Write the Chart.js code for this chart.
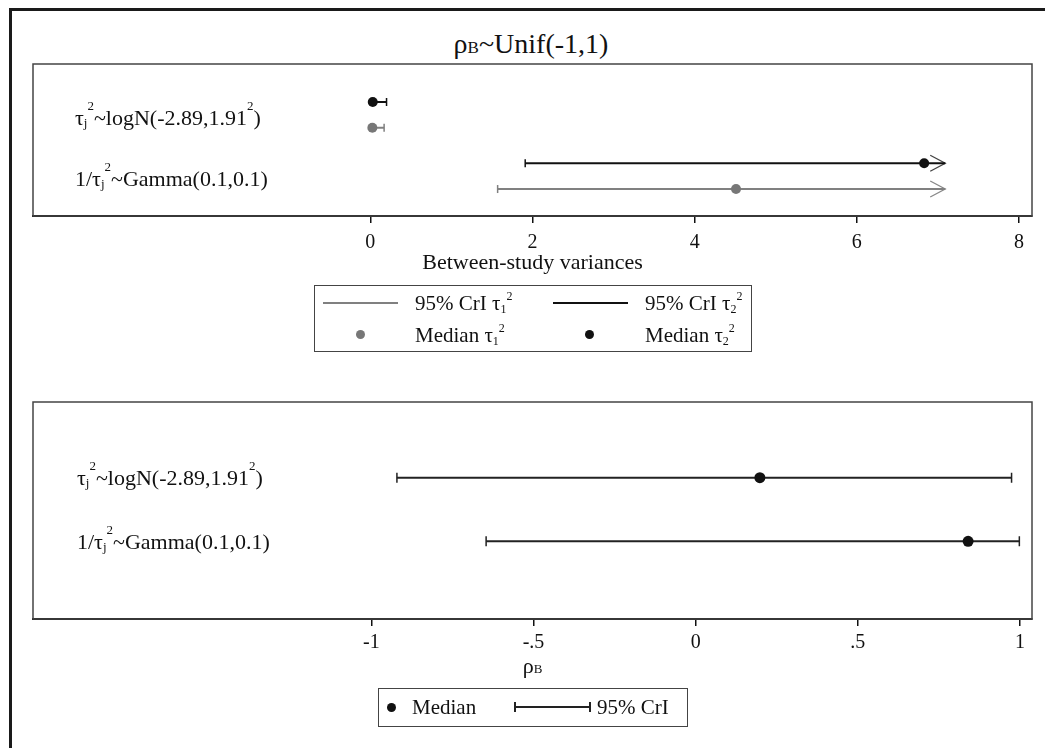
<!DOCTYPE html>
<html>
<head>
<meta charset="utf-8">
<script src="https://cdn.jsdelivr.net/npm/chart.js@4.4.0/dist/chart.umd.min.js"></script>
<style>
  html, body { margin: 0; padding: 0; background: #fff; }
  #page { position: relative; width: 1045px; height: 748px; overflow: hidden; background: #fff;
          font-family: 'Liberation Serif', 'Times New Roman', serif; color: #111; }
  #frame { position: absolute; left: 9px; top: 8px; width: 1100px; height: 800px;
           border-top: 3px solid #1a1a1a; border-left: 3px solid #1a1a1a; }
  canvas { position: absolute; left: 0; }
  .t { position: absolute; white-space: nowrap; font-size: 21px; line-height: 24px; }
  .sb, .sp { font-size: 12px; position: relative; }
  .sb { top: 3px; }
  .sp { top: -10px; }
  .box { position: absolute; border: 1.5px solid #444; box-sizing: border-box; }
  .ln { position: absolute; height: 2px; }
  .dot { position: absolute; border-radius: 50%; width: 9px; height: 9px; }
  .cap { position: absolute; width: 1.5px; height: 10px; background: #222; }
</style>
</head>
<body>
<div id="page">
  <div id="frame"></div>

  <div class="t" style="left:0;width:1062px;text-align:center;top:28px;font-size:28px;line-height:32px">ρ<span style="font-size:17px">B</span>~Unif(-1,1)</div>

  <canvas id="top" width="1045" height="290" style="top:0"></canvas>
  <canvas id="bottom" width="1045" height="320" style="top:380px"></canvas>

  <!-- legend of the variance panel -->
  <div class="box" style="left:314px;top:285px;width:438px;height:67px"></div>
  <div class="ln" style="left:323px;width:75px;top:302px;background:#808080"></div>
  <div class="t" style="left:415px;top:291px">95% CrI τ<span class="sb">1</span><span class="sp">2</span></div>
  <div class="ln" style="left:553px;width:75px;top:302px;background:#111"></div>
  <div class="t" style="left:645px;top:291px">95% CrI τ<span class="sb">2</span><span class="sp">2</span></div>
  <div class="dot" style="left:356px;top:330px;background:#777"></div>
  <div class="t" style="left:415px;top:323px">Median τ<span class="sb">1</span><span class="sp">2</span></div>
  <div class="dot" style="left:585px;top:330px;background:#111"></div>
  <div class="t" style="left:645px;top:323px">Median τ<span class="sb">2</span><span class="sp">2</span></div>

  <!-- legend of the correlation panel -->
  <div class="box" style="left:378px;top:688px;width:310px;height:39px"></div>
  <div class="dot" style="left:387px;top:703px;background:#111"></div>
  <div class="t" style="left:412px;top:695px">Median</div>
  <div class="ln" style="left:514px;width:76px;top:706px;background:#222"></div>
  <div class="cap" style="left:514px;top:702px"></div>
  <div class="cap" style="left:589px;top:702px"></div>
  <div class="t" style="left:597px;top:695px">95% CrI</div>
</div>

<script>
// ---- data ----
const priors = ['logN', 'Gamma'];
const priorLabels = [
    [['τ', ''], ['j', 'sub'], ['2', 'sup'], ['~logN(-2.89,1.91', ''], ['2', 'sup'], [')', '']],
    [['1/τ', ''], ['j', 'sub'], ['2', 'sup'], ['~Gamma(0.1,0.1)', '']]
];

// between-study variances
const tau1Median = [0.025, 4.51];
const tau1Lower = [0.004, 1.57];
const tau1Upper = [0.17, 7.09];
const tau2Median = [0.03, 6.83];
const tau2Lower = [0.005, 1.91];
const tau2Upper = [0.2, 7.09];
const upperTruncated = [false, true];
const varTicks = [0, 2, 4, 6, 8];

// between-study correlation
const rhoMedian = [0.198, 0.84];
const rhoLower = [-0.921, -0.646];
const rhoUpper = [0.974, 0.998];
const rhoTicks = [-1, -0.5, 0, 0.5, 1];
const rhoTickLabels = ['-1', '-.5', '0', '.5', '1'];

const FONT = "'Liberation Serif', 'Times New Roman', serif";
const BLACK = '#111111';
const GRAY = '#808080';
const ROW_OFF = 0.21;

// text with sub/superscripts on the canvas
function drawRich(ctx, parts, x, y, size, align) {
    const small = Math.round(size * 0.6);
    let w = 0;
    parts.forEach(([t, k]) => {
        ctx.font = `${k ? small : size}px ${FONT}`;
        w += ctx.measureText(t).width;
    });
    let cx = align === 'center' ? x - w / 2 : x;
    ctx.textAlign = 'left';
    ctx.textBaseline = 'alphabetic';
    parts.forEach(([t, k]) => {
        ctx.font = `${k ? small : size}px ${FONT}`;
        let dy = 0;
        if (k === 'sub') dy = 2;
        if (k === 'sup') dy = -size * 0.68;
        ctx.fillText(t, cx, y + dy);
        cx += ctx.measureText(t).width;
    });
}

// caps and arrow heads for the interval datasets
const errorDecor = {
    id: 'errorDecor',
    beforeDatasetsDraw(chart, args, opts) {
        const ctx = chart.ctx;
        chart.data.datasets.forEach((ds, i) => {
            if (!ds.interval) return;
            const pts = chart.getDatasetMeta(i).data;
            const a = pts[0], b = pts[1];
            ctx.save();
            ctx.strokeStyle = ds.borderColor;
            ctx.lineWidth = 1.5;
            ctx.beginPath();
            ctx.moveTo(a.x, a.y - opts.cap);
            ctx.lineTo(a.x, a.y + opts.cap);
            if (!ds.arrow) {
                ctx.moveTo(b.x, b.y - opts.cap);
                ctx.lineTo(b.x, b.y + opts.cap);
            }
            ctx.stroke();
            if (ds.arrow) {
                ctx.strokeStyle = ds.arrowColor;
                ctx.lineWidth = 1.3;
                ctx.beginPath();
                ctx.moveTo(b.x - 15, b.y - 8);
                ctx.lineTo(b.x, b.y);
                ctx.lineTo(b.x - 15, b.y + 8);
                ctx.stroke();
            }
            ctx.restore();
        });
    }
};

// plot frame, row labels and rich axis title
const panelDecor = {
    id: 'panelDecor',
    afterDraw(chart, args, opts) {
        const { ctx, chartArea: ca, scales } = chart;
        ctx.save();
        ctx.strokeStyle = '#444';
        ctx.lineWidth = 1.5;
        ctx.strokeRect(ca.left, ca.top, ca.right - ca.left, ca.bottom - ca.top);
        ctx.fillStyle = BLACK;
        opts.labels.forEach((parts, i) => {
            drawRich(ctx, parts, ca.left + opts.labelInset,
                scales.y.getPixelForValue(i + 1) + opts.labelShift, opts.size);
        });
        if (opts.axisTitle) {
            drawRich(ctx, opts.axisTitle, (ca.left + ca.right) / 2, opts.axisTitleY, 22, 'center');
        }
        ctx.restore();
    }
};

function xAxis(min, max, ticks, labels, height, pad, title) {
    return {
        type: 'linear', min, max,
        afterBuildTicks: s => { s.ticks = ticks.map(v => ({ value: v })); },
        afterFit: s => { s.height = height; },
        grid: { drawOnChartArea: false, drawTicks: true, tickLength: 7, color: BLACK, lineWidth: 1.5 },
        border: { display: true, color: BLACK, width: 2 },
        ticks: {
            color: BLACK, font: { family: FONT, size: 20 }, padding: pad,
            maxRotation: 0, autoSkip: false,
            callback: v => labels ? labels[ticks.indexOf(v)] : String(v)
        },
        title: title ? {
            display: true, text: title, color: BLACK,
            font: { family: FONT, size: 22 }, padding: { top: 0, bottom: 14 }
        } : { display: false }
    };
}

// ---- top panel: variances ----
const topSets = [
    {
        data: tau2Median.map((m, i) => ({ x: m, y: i + 1 - ROW_OFF })),
        backgroundColor: BLACK, borderWidth: 0, pointRadius: 5
    },
    {
        data: tau1Median.map((m, i) => ({ x: m, y: i + 1 + ROW_OFF })),
        backgroundColor: '#777', borderWidth: 0, pointRadius: 5
    }
];
priors.forEach((p, i) => {
    topSets.push({
        interval: true, arrow: upperTruncated[i], arrowColor: '#444',
        data: [{ x: tau2Lower[i], y: i + 1 - ROW_OFF }, { x: tau2Upper[i], y: i + 1 - ROW_OFF }],
        showLine: true, borderColor: BLACK, borderWidth: 2, pointRadius: 0
    });
    topSets.push({
        interval: true, arrow: upperTruncated[i], arrowColor: '#888',
        data: [{ x: tau1Lower[i], y: i + 1 + ROW_OFF }, { x: tau1Upper[i], y: i + 1 + ROW_OFF }],
        showLine: true, borderColor: GRAY, borderWidth: 2, pointRadius: 0
    });
});

new Chart(document.getElementById('top'), {
    type: 'scatter',
    data: { datasets: topSets },
    options: {
        responsive: false, animation: false, devicePixelRatio: 1, events: [],
        layout: { padding: { left: 33, right: 13, top: 64, bottom: 0 } },
        plugins: {
            legend: { display: false }, tooltip: { enabled: false },
            errorDecor: { cap: 4 },
            panelDecor: { labels: priorLabels, labelInset: 42, labelShift: 10, size: 22 }
        },
        scales: {
            x: xAxis(-4.16, 8.16, varTicks, null, 74, 8, 'Between-study variances'),
            y: { type: 'linear', display: false, reverse: true, min: 0.17, max: 2.65 }
        }
    },
    plugins: [errorDecor, panelDecor]
});

// ---- bottom panel: correlation ----
const bottomSets = [
    {
        data: rhoMedian.map((m, i) => ({ x: m, y: i + 1 })),
        backgroundColor: BLACK, borderWidth: 0, pointRadius: 5.5
    }
];
priors.forEach((p, i) => {
    bottomSets.push({
        interval: true, arrow: false,
        data: [{ x: rhoLower[i], y: i + 1 }, { x: rhoUpper[i], y: i + 1 }],
        showLine: true, borderColor: '#222', borderWidth: 2, pointRadius: 0
    });
});

new Chart(document.getElementById('bottom'), {
    type: 'scatter',
    data: { datasets: bottomSets },
    options: {
        responsive: false, animation: false, devicePixelRatio: 1, events: [],
        layout: { padding: { left: 33, right: 13, top: 22, bottom: 0 } },
        plugins: {
            legend: { display: false }, tooltip: { enabled: false },
            errorDecor: { cap: 5 },
            panelDecor: {
                labels: priorLabels, labelInset: 44, labelShift: 7.5, size: 22,
                axisTitle: [['ρ', ''], ['B', 'low']], axisTitleY: 293
            }
        },
        scales: {
            x: xAxis(-2.043, 1.037, rhoTicks, rhoTickLabels, 81, 5, null),
            y: { type: 'linear', display: false, reverse: true, min: -0.19, max: 3.22 }
        }
    },
    plugins: [errorDecor, panelDecor]
});
</script>
</body>
</html>
